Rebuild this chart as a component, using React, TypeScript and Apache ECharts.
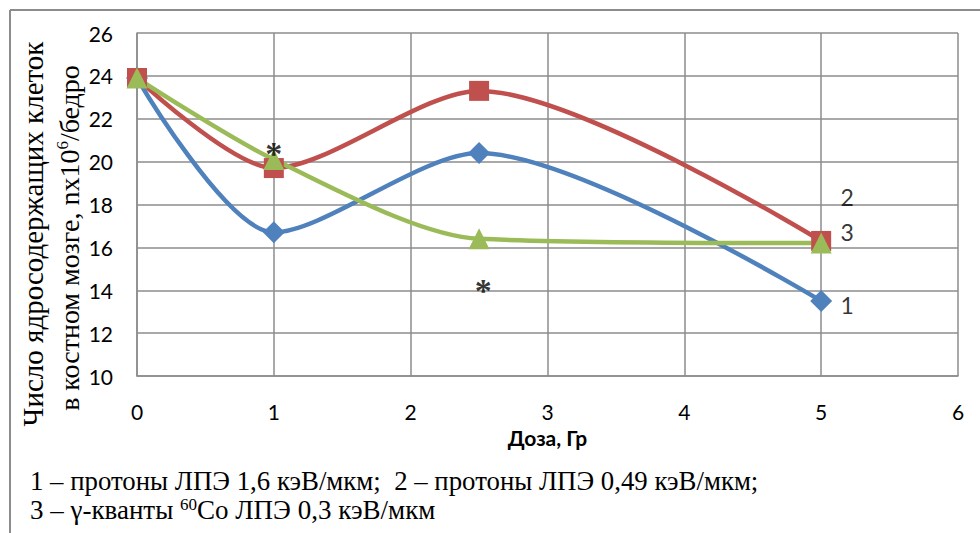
import React, { useEffect, useRef } from 'react';
import * as echarts from 'echarts';

const doses = [0, 1, 2.5, 5];
const protons16 = [23.9, 16.7, 20.4, 13.5];
const protons049 = [23.9, 19.7, 23.3, 16.3];
const gammaCo = [23.9, 20.1, 16.4, 16.2];
const curveLabels: [number, number, string][] = [
  [5.19, 18.35, '2'],
  [5.19, 16.72, '3'],
  [5.19, 13.31, '1'],
];
const asterisks: [number, number, string][] = [
  [1.0, 20.4, '*'],
  [2.53, 14.0, '*'],
];
const yTitle1 = 'Число ядросодержащих клеток';
const yTitle2a = 'в костном мозге, nx10';
const yTitle2sup = '6';
const yTitle2b = '/бедро';
const xTitle = 'Доза, Гр';
const note1 = '1 – протоны ЛПЭ 1,6 кэВ/мкм;  2 – протоны ЛПЭ 0,49 кэВ/мкм;';
const note2a = '3 – γ-кванты ';
const note2sup = '60';
const note2b = 'Co ЛПЭ 0,3 кэВ/мкм';

const BLUE = '#4F81BD';
const RED = '#C0504D';
const GREEN = '#9BBB59';
const GRID = '#8c8c8c';
const SERIF = "'Liberation Serif', 'Times New Roman', serif";
const SANS = "Lato, 'Liberation Sans', sans-serif";

export default function App() {
  const ref = useRef<HTMLDivElement>(null);
  useEffect(() => {
    document.body.style.margin = '0';
    const chart = echarts.init(ref.current!, null, { renderer: 'svg' });
    const mk = (vals: number[]) => doses.map((d, i) => [d, vals[i]]);
    const lineSeries = (name: string, vals: number[], color: string, symbol: string, size: number | number[]) => ({
      type: 'line',
      name,
      data: mk(vals),
      smooth: 0.28,
      symbol,
      symbolSize: size,
      showAllSymbol: true,
      lineStyle: { color, width: 4.5 },
      itemStyle: { color },
      z: 3,
    });
    const supRich = (fs: number) => ({
      n: { fontFamily: SERIF, fontSize: fs, color: '#000' },
      s: { fontFamily: SERIF, fontSize: Math.round(fs * 0.62), color: '#000', padding: [0, 0, Math.round(fs * 0.45), 0] },
    });
    chart.setOption({
      animation: false,
      backgroundColor: '#ffffff',
      grid: { left: 137, right: 22, top: 33, bottom: 157 },
      xAxis: {
        type: 'value',
        min: 0,
        max: 6,
        interval: 1,
        axisLine: { show: true, lineStyle: { color: GRID, width: 1.5 } },
        axisTick: { show: false },
        splitLine: { show: true, lineStyle: { color: GRID, width: 1.5 } },
        axisLabel: { fontFamily: SANS, fontSize: 21, color: '#000', margin: 25 },
        name: xTitle,
        nameLocation: 'middle',
        nameGap: 50,
        nameTextStyle: { fontFamily: SANS, fontSize: 21, fontWeight: 'bold', color: '#000' },
      },
      yAxis: {
        type: 'value',
        min: 10,
        max: 26,
        interval: 2,
        axisLine: { show: true, lineStyle: { color: GRID, width: 1.5 } },
        axisTick: { show: false },
        splitLine: { show: true, lineStyle: { color: GRID, width: 1.5 } },
        axisLabel: { fontFamily: SANS, fontSize: 21, color: '#000', margin: 24 },
      },
      series: [
        lineSeries('1', protons16, BLUE, 'diamond', [22, 22]),
        lineSeries('2', protons049, RED, 'rect', 20),
        lineSeries('3', gammaCo, GREEN, 'triangle', 21),
        {
          type: 'scatter',
          data: curveLabels,
          symbolSize: 0,
          z: 5,
          label: {
            show: true,
            position: 'inside',
            formatter: (p: any) => p.data[2],
            fontFamily: SANS,
            fontSize: 23,
            color: '#000',
          },
        },
        {
          type: 'scatter',
          data: asterisks,
          symbolSize: 0,
          z: 5,
          label: {
            show: true,
            position: 'inside',
            formatter: (p: any) => p.data[2],
            fontFamily: SERIF,
            fontSize: 34,
            fontWeight: 'bold',
            color: '#000',
          },
        },
      ],
      graphic: [
        { type: 'line', shape: { x1: 10, y1: 10, x2: 980, y2: 10 }, style: { stroke: GRID, lineWidth: 2 } },
        { type: 'line', shape: { x1: 10, y1: 10, x2: 10, y2: 533 }, style: { stroke: GRID, lineWidth: 2 } },
        {
          type: 'text',
          x: 33,
          y: 234,
          rotation: Math.PI / 2,
          style: { text: yTitle1, fontFamily: SERIF, fontSize: 29, fill: '#000', align: 'center', verticalAlign: 'middle' },
        },
        {
          type: 'text',
          x: 69,
          y: 238,
          rotation: Math.PI / 2,
          style: {
            text: `{n|${yTitle2a}}{s|${yTitle2sup}}{n|${yTitle2b}}`,
            rich: supRich(28),
            fill: '#000',
            align: 'center',
            verticalAlign: 'middle',
          },
        },
        {
          type: 'text',
          x: 30,
          y: 481,
          style: { text: note1, fontFamily: SERIF, fontSize: 26.8, fill: '#000', align: 'left', verticalAlign: 'middle' },
        },
        {
          type: 'text',
          x: 30,
          y: 510,
          style: {
            text: `{n|${note2a}}{s|${note2sup}}{n|${note2b}}`,
            rich: supRich(27),
            fill: '#000',
            align: 'left',
            verticalAlign: 'middle',
          },
        },
      ],
    });
    return () => chart.dispose();
  }, []);
  return <div ref={ref} style={{ width: 980, height: 533 }} />;
}
